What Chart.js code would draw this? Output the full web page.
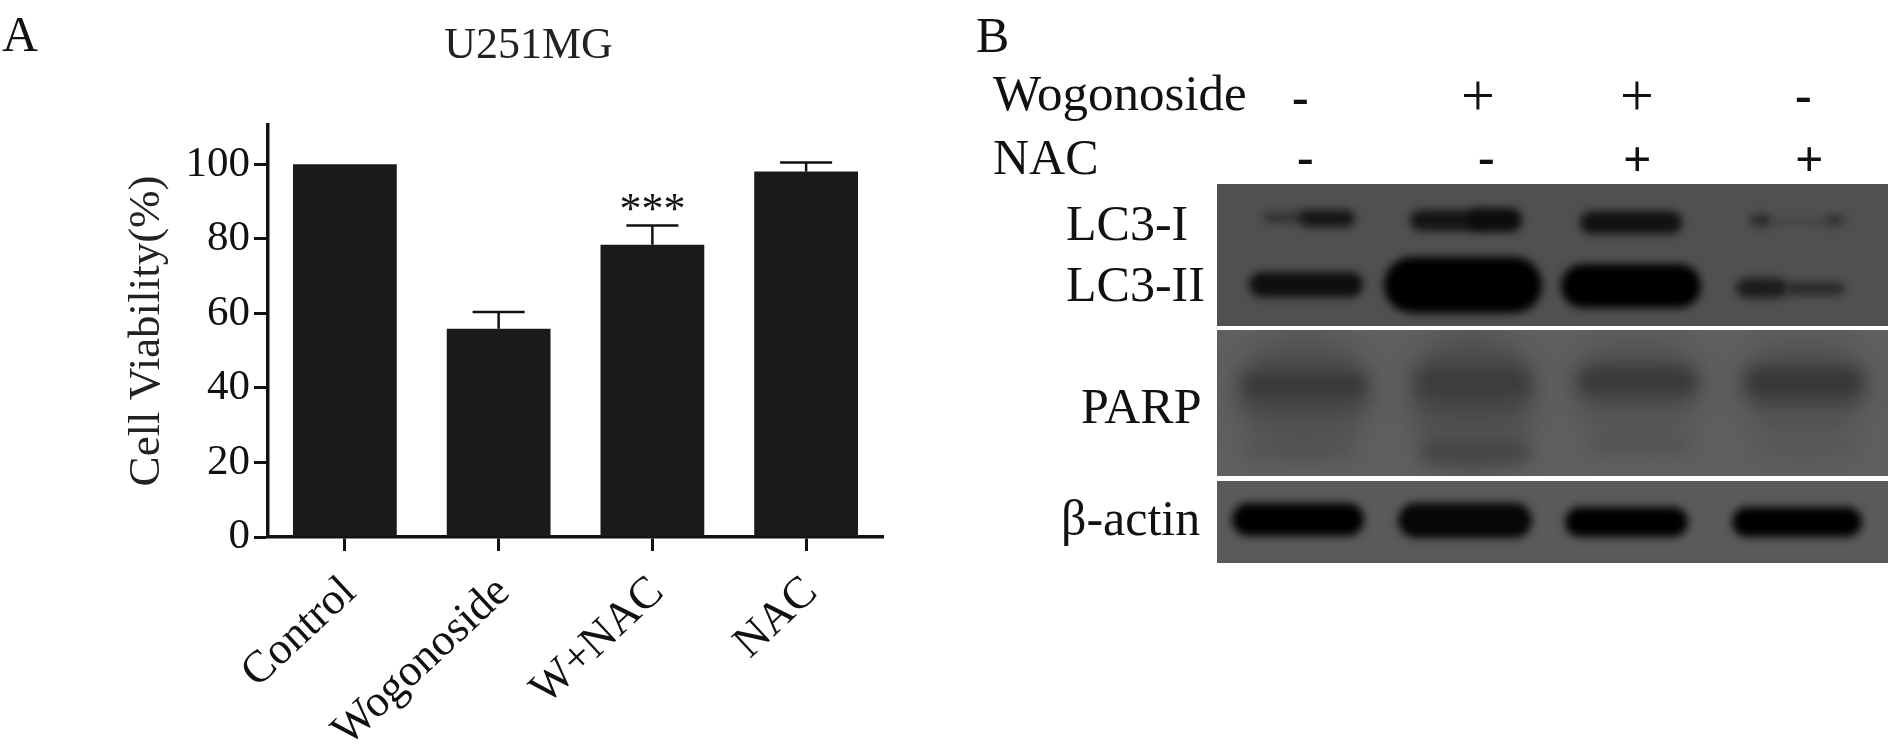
<!DOCTYPE html>
<html><head><meta charset="utf-8">
<script src="https://cdn.jsdelivr.net/npm/chart.js@4"></script>
<style>
html,body{margin:0;padding:0;background:#fff;width:1899px;height:750px;overflow:hidden}
#page{position:absolute;left:0;top:0;width:1899px;height:750px;filter:blur(0.55px)}
#chartWrap{position:absolute;left:0;top:0;width:1060px;height:750px}
#blot{position:absolute;left:0;top:0}
.t{position:absolute;font-family:"Liberation Serif",serif;color:#111;white-space:nowrap;line-height:1;font-size:50px}
</style></head><body>
<div id="page">
<canvas id="blot" width="1899" height="750"></canvas>
<div id="chartWrap"><canvas id="chart"></canvas></div>
<span class="t" style="left:2px;top:9px">A</span>
<span class="t" style="left:976px;top:10px">B</span>
<span class="t" style="left:993px;top:68px;font-size:51px">Wogonoside</span>
<span class="t" style="left:993px;top:132px">NAC</span>
<span class="t" style="left:1066px;top:198px">LC3-I</span>
<span class="t" style="left:1066px;top:259px">LC3-II</span>
<span class="t" style="left:1081px;top:381px">PARP</span>
<span class="t" style="left:1061px;top:493px">β-actin</span>
<span class="t sign" style="left:1292px;top:72px;font-weight:bold">-</span>
<span class="t sign" style="left:1461px;top:65px;font-size:60px">+</span>
<span class="t sign" style="left:1620px;top:65px;font-size:60px">+</span>
<span class="t sign" style="left:1795px;top:70px;font-weight:bold">-</span>
<span class="t sign" style="left:1297px;top:132px;font-weight:bold">-</span>
<span class="t sign" style="left:1478px;top:132px;font-weight:bold">-</span>
<span class="t sign" style="left:1623px;top:134px;font-weight:bold">+</span>
<span class="t sign" style="left:1795px;top:134px;font-weight:bold">+</span>
</div>
<script>
const categories = ["Control", "Wogonoside", "W+NAC", "NAC"];
const viability = [100, 55.9, 78.4, 98.1];
const errorTop = [100, 60.4, 83.6, 100.5];
const significance = ["", "", "***", ""];
const yTicks = [0, 20, 40, 60, 80, 100];

const INK = "#111111";
const SERIF = '"Liberation Serif", serif';

const errorBars = {
  id: "errorBars",
  beforeDraw(chart) {
    // the title sits off the canvas centre, above the plot's right part
    chart.titleBlock.left = 174;
  },
  afterDatasetsDraw(chart) {
    const { ctx, scales: { x, y } } = chart;
    ctx.save();
    ctx.strokeStyle = INK;
    ctx.fillStyle = INK;
    ctx.lineWidth = 2.5;
    categories.forEach((c, i) => {
      if (errorTop[i] > viability[i]) {
        const px = x.getPixelForValue(i);
        const top = y.getPixelForValue(errorTop[i]);
        const base = y.getPixelForValue(viability[i]);
        ctx.beginPath();
        ctx.moveTo(px, base); ctx.lineTo(px, top);
        ctx.moveTo(px - 26, top); ctx.lineTo(px + 26, top);
        ctx.stroke();
      }
      if (significance[i]) {
        ctx.font = "44px " + SERIF;
        ctx.textAlign = "center";
        ctx.textBaseline = "alphabetic";
        ctx.fillText(significance[i], x.getPixelForValue(i), y.getPixelForValue(errorTop[i]) - 2);
      }
    });
    ctx.restore();
  }
};

new Chart(document.getElementById("chart"), {
  type: "bar",
  data: { labels: categories, datasets: [{ data: viability, backgroundColor: "#1a1a1a", borderColor: "#111", borderWidth: 0, barPercentage: 0.675, categoryPercentage: 1 }] },
  plugins: [errorBars],
  options: {
    responsive: true, maintainAspectRatio: false, animation: false,
    layout: { padding: { top: 0, right: 177, left: 0, bottom: 0 } },
    plugins: {
      legend: { display: false }, tooltip: { enabled: false },
      title: { display: true, text: "U251MG", color: "#222", font: { family: SERIF, size: 44, weight: "normal" }, padding: { top: 20, bottom: 52 } }
    },
    scales: {
      x: {
        afterFit(s) { s.height = 213; },
        grid: { display: true, drawOnChartArea: false, drawTicks: true, tickLength: 14, tickWidth: 3, tickColor: INK, offset: false },
        border: { color: INK, width: 3.5 },
        ticks: { color: INK, font: { family: SERIF, size: 45 }, minRotation: 43, maxRotation: 43, padding: 15, labelOffset: 5, autoSkip: false }
      },
      y: {
        min: 0, max: 110.6,
        afterFit(s) { s.width = 268; },
        afterBuildTicks(s) { s.ticks = yTicks.map(v => ({ value: v })); },
        grid: { display: true, drawOnChartArea: false, drawTicks: true, tickLength: 14, tickWidth: 3, tickColor: INK },
        border: { color: INK, width: 3.5 },
        ticks: { color: INK, font: { family: SERIF, size: 43 }, padding: 4, autoSkip: false },
        title: { display: true, text: "Cell Viability(%)", color: "#222", font: { family: SERIF, size: 45 }, padding: { top: 120, bottom: 0 }, align: "center" }
      }
    }
  }
});

/* Panel B: the western-blot image beside the chart */
const blotPanels = [[1217,184,671,142,"#505050"],[1217,330,671,146,"#5f5f5f"],[1217,481,671,82,"#5a5a5a"]];
const bands = [
  // x, y, w, h, blur, colour, panel
  [1264,213,45,9,5,"#2c2c2c",0],[1300,210,55,17,4,"#161616",0],
  [1410,210,72,21,4,"#151515",0],[1468,208,54,24,4,"#0c0c0c",0],
  [1580,211,102,23,4,"#121212",0],
  [1750,214,22,13,4,"#2c2c2c",0],[1824,215,21,11,4,"#333",0],[1770,219,60,6,3,"#454545",0],
  [1249,272,114,25,4,"#0e0e0e",0],
  [1384,257,158,56,4.5,"#000",0],
  [1561,264,140,44,4,"#000",0],
  [1736,278,52,20,4,"#1d1d1d",0],[1785,282,60,13,4,"#2a2a2a",0],
  [1240,335,128,120,12,"#525252",1],[1413,332,118,140,12,"#515151",1],[1576,335,122,110,14,"#555",1],[1743,335,122,110,14,"#555",1],
  [1240,365,128,46,11,"#434343",1],[1413,358,118,56,11,"#454545",1],[1576,362,122,40,10,"#434343",1],[1743,362,122,44,10,"#414141",1],
  [1245,376,120,18,7,"#383838",1],[1418,372,110,22,8,"#3b3b3b",1],[1582,372,112,18,7,"#383838",1],[1748,372,112,20,7,"#363636",1],
  [1245,442,110,14,7,"#525252",1],[1420,440,110,24,7,"#474747",1],[1590,438,100,14,7,"#525252",1],[1755,440,100,14,8,"#565656",1],
  [1232,503,132,33,4.5,"#000",2],[1398,503,134,35,4.5,"#060606",2],[1565,507,123,30,4.5,"#000",2],[1732,507,130,30,4.5,"#000",2]
];
(function () {
  const ctx = document.getElementById("blot").getContext("2d");
  blotPanels.forEach((p, idx) => {
    ctx.save();
    ctx.beginPath(); ctx.rect(p[0], p[1], p[2], p[3]); ctx.clip();
    ctx.fillStyle = p[4]; ctx.fillRect(p[0], p[1], p[2], p[3]);
    bands.filter(b => b[6] === idx).forEach(b => {
      ctx.filter = "blur(" + b[4] + "px)";
      ctx.fillStyle = b[5];
      ctx.beginPath();
      ctx.roundRect(b[0], b[1], b[2], b[3], b[3] / 2);
      ctx.fill();
    });
    ctx.restore();
  });
})();
</script>
</body></html>
